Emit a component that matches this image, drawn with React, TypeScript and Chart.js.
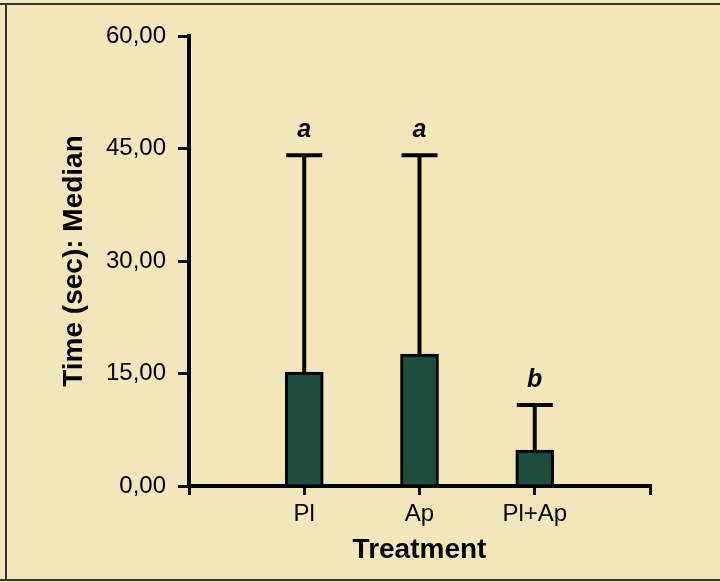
import React, { useEffect, useRef } from "react";
import { Chart, registerables } from "chart.js";

Chart.register(...registerables);

const categories = ["", "Pl", "Ap", "Pl+Ap", ""];
const medians = [null, 15.2, 17.6, 4.8, null];
const upperErrors = [null, 44.1, 44.1, 10.8, null];
const groupLetters = ["", "a", "a", "b", ""];
const yTicks = [0, 15, 30, 45, 60];

const FONT = "'Liberation Sans', Arial, Helvetica, sans-serif";

const backgroundPlugin = {
  id: "paperBackground",
  beforeDraw(chart: any) {
    const { ctx, width, height } = chart;
    ctx.save();
    ctx.fillStyle = "#f1e7b9";
    ctx.fillRect(0, 0, width, height);
    ctx.strokeStyle = "#333";
    ctx.lineWidth = 2;
    ctx.beginPath();
    ctx.moveTo(0, 4);
    ctx.lineTo(width, 4);
    ctx.moveTo(6, 4);
    ctx.lineTo(6, height - 2);
    ctx.moveTo(0, height - 2);
    ctx.lineTo(width, height - 2);
    ctx.stroke();
    ctx.restore();
  },
};

const errorBarPlugin = {
  id: "errorBars",
  afterDatasetsDraw(chart: any) {
    const { ctx } = chart;
    const meta = chart.getDatasetMeta(0);
    const yScale = chart.scales.y;
    ctx.save();
    meta.data.forEach((bar: any, i: number) => {
      const up = upperErrors[i];
      if (up == null || medians[i] == null) return;
      const x = bar.x;
      const yTop = yScale.getPixelForValue(up);
      const yBar = bar.y;
      ctx.strokeStyle = "#000";
      ctx.lineWidth = 4;
      ctx.beginPath();
      ctx.moveTo(x, yBar);
      ctx.lineTo(x, yTop);
      ctx.moveTo(x - 18, yTop);
      ctx.lineTo(x + 18, yTop);
      ctx.stroke();
      const letter = groupLetters[i];
      if (letter) {
        ctx.fillStyle = "#000";
        ctx.font = `italic bold 25px ${FONT}`;
        ctx.textAlign = "center";
        ctx.textBaseline = "middle";
        ctx.fillText(letter, x, yTop - 25);
      }
    });
    ctx.restore();
  },
};

export default function App() {
  const ref = useRef<HTMLCanvasElement | null>(null);
  useEffect(() => {
    if (!ref.current) return;
    const chart = new Chart(ref.current, {
      type: "bar",
      data: {
        labels: categories,
        datasets: [
          {
            data: medians as any,
            backgroundColor: "#1d4b3c",
            borderColor: "#000",
            borderWidth: 3,
            barThickness: 38,
          },
        ],
      },
      options: {
        responsive: false,
        animation: false,
        layout: { padding: { left: 0, right: 70, top: 36, bottom: 0 } },
        plugins: {
          legend: { display: false },
          tooltip: { enabled: false },
        },
        scales: {
          x: {
            type: "category",
            offset: false,
            afterFit: (s: any) => {
              s.height = 96;
            },
            grid: {
              offset: false,
              drawOnChartArea: false,
              drawTicks: true,
              tickLength: 9,
              color: "#000",
              lineWidth: 3,
            },
            border: { color: "#000", width: 4 },
            ticks: {
              color: "#000",
              padding: 5,
              maxRotation: 0,
              autoSkip: false,
              font: { family: FONT, size: 24 },
            },
            title: {
              display: true,
              text: "Treatment",
              color: "#000",
              font: { family: FONT, size: 28, weight: "bold" },
              padding: { top: 0, bottom: 15 },
            },
          },
          y: {
            min: 0,
            max: 60,
            afterFit: (s: any) => {
              s.width = 189;
            },
            afterBuildTicks: (s: any) => {
              s.ticks = yTicks.map((v) => ({ value: v }));
            },
            grid: {
              drawOnChartArea: false,
              drawTicks: true,
              tickLength: 11,
              color: "#000",
              lineWidth: 3,
            },
            border: { color: "#000", width: 4 },
            ticks: {
              color: "#000",
              padding: 12,
              font: { family: FONT, size: 24 },
              callback: (v: any) => Number(v).toFixed(2).replace(".", ","),
            },
            title: {
              display: true,
              text: "Time (sec): Median",
              color: "#000",
              font: { family: FONT, size: 28, weight: "bold" },
              padding: { top: 57, bottom: 0 },
            },
          },
        },
      },
      plugins: [backgroundPlugin, errorBarPlugin],
    });
    return () => chart.destroy();
  }, []);
  return (
    <div style={{ position: "absolute", left: 0, top: 0, width: 720, height: 582 }}>
      <canvas ref={ref} width={720} height={582} style={{ display: "block" }} />
    </div>
  );
}
